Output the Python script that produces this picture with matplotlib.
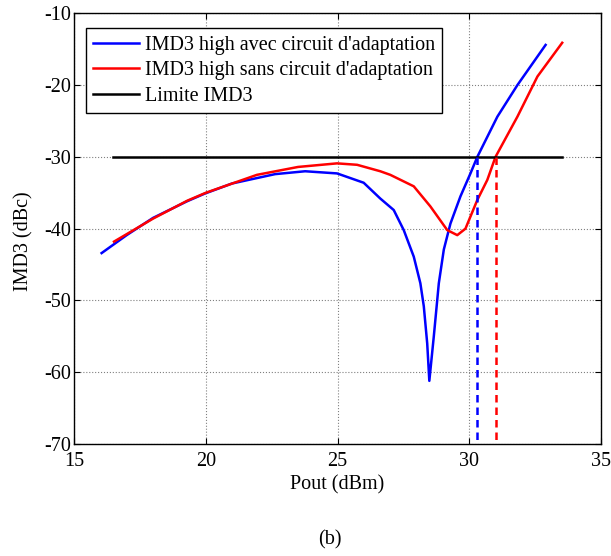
import matplotlib
matplotlib.use('Agg')
import matplotlib.pyplot as plt

# courbe bleue : avec circuit d'adaptation
pout_avec = [16.05, 17.0, 18.0, 19.28, 19.97, 21.0, 22.63, 23.77, 24.98, 25.99,
             26.62, 27.13, 27.51, 27.89, 28.14, 28.27, 28.40, 28.48, 28.65, 28.84,
             29.03, 29.28, 29.66, 30.04, 30.30, 31.06, 31.82, 32.89]
imd3_avec = [-43.4, -40.9, -38.5, -36.2, -35.1, -33.7, -32.4, -32.0, -32.3, -33.6,
             -35.8, -37.4, -40.2, -43.9, -47.6, -50.8, -56.0, -61.2, -55.0, -47.6,
             -42.9, -39.3, -35.5, -32.3, -30.0, -24.4, -20.0, -14.4]

# courbe rouge : sans circuit d'adaptation
pout_sans = [16.52, 18.0, 19.3, 20.0, 21.94, 23.5, 24.98, 25.74, 26.62, 27.0,
             27.89, 28.52, 29.16, 29.54, 29.85, 30.30, 30.68, 30.99, 31.82, 32.58, 33.52]
imd3_sans = [-41.8, -38.6, -36.1, -35.0, -32.5, -31.4, -30.9, -31.1, -32.0, -32.5,
             -34.1, -36.9, -40.2, -40.9, -40.0, -36.0, -33.2, -30.0, -24.4, -18.8, -14.1]

limite = -30
limite_x = [16.5, 33.5]
pout_lim_avec = 30.3
pout_lim_sans = 31.0

plt.rcParams['font.family'] = ['Liberation Serif', 'DejaVu Serif']
plt.rcParams['font.size'] = 14.5
plt.rcParams['axes.unicode_minus'] = False

fig = plt.figure(figsize=(6.11, 5.56), dpi=100)
ax = fig.add_axes([0.121, 0.2014, 0.863, 0.7746])

ax.plot(pout_avec, imd3_avec, color='blue', lw=1.8, label="IMD3 high avec circuit d'adaptation")
ax.plot(pout_sans, imd3_sans, color='red', lw=1.8, label="IMD3 high sans circuit d'adaptation")
ax.plot(limite_x, [limite, limite], color='black', lw=1.8, label='Limite IMD3')
ax.plot([pout_lim_avec, pout_lim_avec], [limite, -70], color='blue', lw=1.8, ls='--', dashes=(3, 2))
ax.plot([pout_lim_sans, pout_lim_sans], [limite, -70], color='red', lw=1.8, ls='--', dashes=(3, 2))

ax.set_xlim(15, 35)
ax.set_ylim(-70, -10)
ax.set_xticks(range(15, 36, 5))
ax.set_yticks(range(-70, -9, 10))
ax.grid(True, color='gray', ls=':', lw=0.8)
ax.tick_params(direction='in', top=True, right=True, length=4)
ax.tick_params(axis='x', pad=6)
ax.tick_params(axis='y', pad=2)
for s in ax.spines.values():
    s.set_linewidth(1.0)

ax.set_xlabel('Pout (dBm)', labelpad=3)
ax.set_ylabel('IMD3 (dBc)')
ax.yaxis.set_label_coords(-0.077, 0.47)

leg = ax.legend(loc='upper left', bbox_to_anchor=(0.022, 0.965), fancybox=False,
                edgecolor='black', framealpha=1, handlelength=2.3, borderpad=0.35,
                labelspacing=0.32, handletextpad=0.3, borderaxespad=0)
leg.get_frame().set_linewidth(1.0)

fig.text(0.54, 0.029, '(b)', ha='center', va='center')

fig.savefig('out.png', dpi=100)
